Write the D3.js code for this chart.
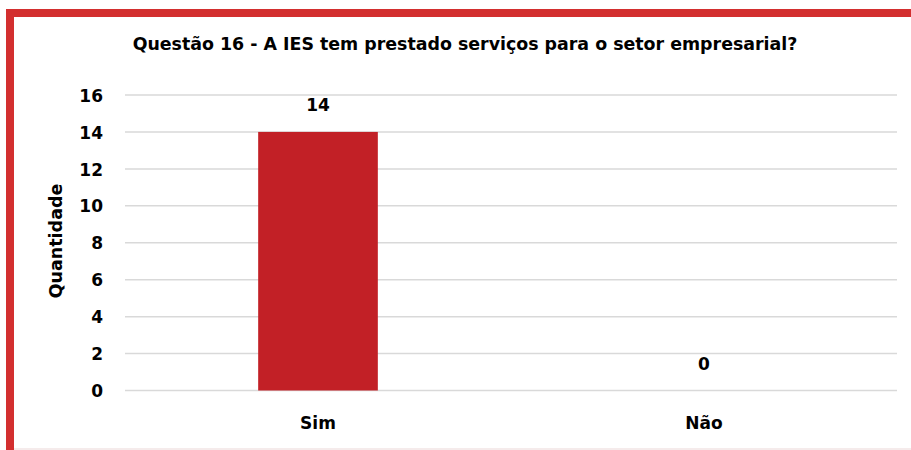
<!DOCTYPE html>
<html>
<head>
<meta charset="utf-8">
<script src="https://cdn.jsdelivr.net/npm/d3@7"></script>
<style>
  body { margin: 0; background: #fff; }
  text { font-family: "DejaVu Sans", sans-serif; font-weight: bold; fill: #000; }
</style>
</head>
<body>
<svg width="911" height="450"></svg>
<script>
const categories = ["Sim", "Não"];
const values = [14, 0];
const yTicks = [0, 2, 4, 6, 8, 10, 12, 14, 16];

const svg = d3.select("svg");

// red frame (top and left), faint line at bottom
svg.append("rect").attr("x", 6).attr("y", 9).attr("width", 905).attr("height", 8).attr("fill", "#D32F2F");
svg.append("rect").attr("x", 6).attr("y", 9).attr("width", 8).attr("height", 441).attr("fill", "#D32F2F");
svg.append("line").attr("x1", 14).attr("x2", 911).attr("y1", 449).attr("y2", 449)
  .attr("stroke", "#F2E4E4").attr("stroke-width", 1.5);

const x = d3.scaleBand()
  .domain(categories)
  .range([125, 897])
  .paddingInner(0.69)
  .paddingOuter(0.345);

const y = d3.scaleLinear()
  .domain([0, 16])
  .range([390.5, 95]);

// gridlines
svg.append("g")
  .selectAll("line")
  .data(yTicks)
  .join("line")
  .attr("x1", 125)
  .attr("x2", 897)
  .attr("y1", d => y(d))
  .attr("y2", d => y(d))
  .attr("stroke", "#D9D9D9")
  .attr("stroke-width", 1.5);

// y axis labels
const yAxis = svg.append("g")
  .attr("transform", "translate(103,0)")
  .call(d3.axisLeft(y).tickValues(yTicks).tickSize(0).tickPadding(0));
yAxis.select(".domain").remove();
yAxis.selectAll("text")
  .style("font-size", "17px")
  .style("font-family", "'DejaVu Sans', sans-serif")
  .style("font-weight", "bold")
  .attr("dy", "0.36em");

// bars
svg.append("g")
  .selectAll("rect")
  .data(values)
  .join("rect")
  .attr("x", (d, i) => x(categories[i]))
  .attr("y", d => y(d))
  .attr("width", x.bandwidth())
  .attr("height", d => y(0) - y(d))
  .attr("fill", "#C22026");

// value labels
svg.append("g")
  .selectAll("text")
  .data(values)
  .join("text")
  .attr("x", (d, i) => x(categories[i]) + x.bandwidth() / 2)
  .attr("y", d => y(d) - 21)
  .attr("text-anchor", "middle")
  .style("font-size", "17px")
  .text(d => d);

// category labels
svg.append("g")
  .selectAll("text")
  .data(categories)
  .join("text")
  .attr("x", d => x(d) + x.bandwidth() / 2)
  .attr("y", 429)
  .attr("text-anchor", "middle")
  .style("font-size", "17px")
  .text(d => d);

// y axis title
svg.append("text")
  .attr("transform", "translate(62,241) rotate(-90)")
  .attr("text-anchor", "middle")
  .style("font-size", "17.5px")
  .text("Quantidade");

// chart title
svg.append("text")
  .attr("x", 465)
  .attr("y", 50)
  .attr("text-anchor", "middle")
  .style("font-size", "17.4px")
  .text("Questão 16 - A IES tem prestado serviços para o setor empresarial?");
</script>
</body>
</html>
